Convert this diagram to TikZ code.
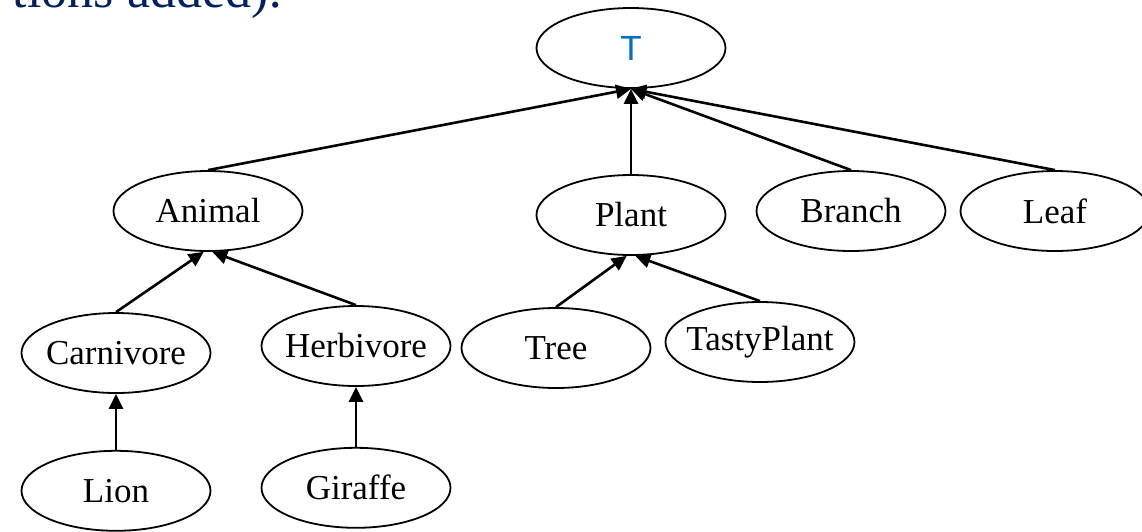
\documentclass[tikz,border=0pt]{standalone}
\usepackage{fontspec}
\setmainfont{Liberation Serif}
\newfontfamily\topfont{Liberation Sans}
\usepackage{tikz}
\usetikzlibrary{arrows.meta,positioning,shapes.geometric}
\definecolor{capnavy}{RGB}{0,32,96}
\definecolor{topblue}{RGB}{0,112,192}

\begin{document}
\begin{tikzpicture}[x=0.5pt,y=-0.5pt,>={Triangle[length=7.5pt,width=7pt]},
    font=\fontsize{17.5}{21}\selectfont,
    el/.style={draw,ellipse,line width=0.9pt,minimum width=94.5pt,minimum height=40pt,inner xsep=-14pt,inner ysep=0pt},
    isa/.style={->,line width=1.3pt}]
  \clip (0,0) rectangle (1142,531);
  % caption line cut off at the top
  \node[anchor=base east,text=capnavy,font=\fontsize{26}{30}\selectfont] (cap) at (290,7) {tions added):};
  % hierarchy
  \node[el] (top) at (631,48) {\topfont\textcolor{topblue}{T}};
  \node[el] (animal) at (208,211) {Animal};
  \node[el] (plant) at (631,215) {Plant};
  \node[el] (branch) at (851,211) {Branch};
  \node[el] (leaf) at (1055,211) {Leaf};
  \node[el] (carn) at (116,353) {Carnivore};
  \node[el] (herb) at (356,346) {Herbivore};
  \node[el] (tree) at (556,348) {Tree};
  \node[el] (tasty) at (760,342) {TastyPlant};
  \node[el,below=28pt of carn] (lion) {Lion};
  \node[el,below=30pt of herb] (giraffe) {Giraffe};
  % is-a links
  \foreach \c in {animal,plant,branch,leaf} \draw[isa] (\c.north) -- (top.south);
  \draw[isa] (carn.north) -- (animal.-96);
  \draw[isa] (herb.north) -- (animal.-84);
  \draw[isa] (tree.north) -- (plant.-96);
  \draw[isa] (tasty.north) -- (plant.-84);
  \draw[isa] (lion) -- (carn);
  \draw[isa] (giraffe) -- (herb);
\end{tikzpicture}
\end{document}
